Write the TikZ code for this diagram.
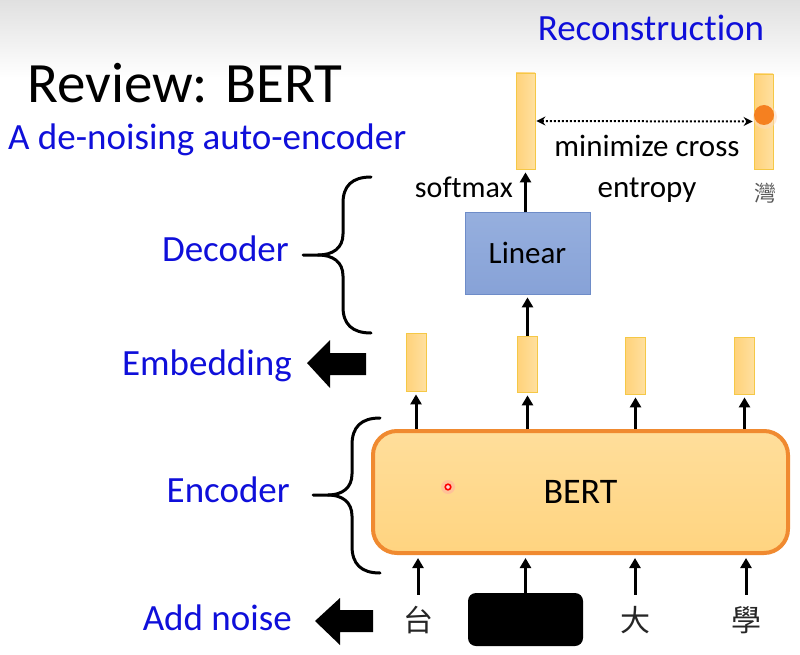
\documentclass[tikz,border=0pt]{standalone}
\usepackage{fontspec}
\setmainfont{Carlito}[Ligatures=NoCommon]
\newfontfamily\cjk{Noto Sans CJK TC}
\usetikzlibrary{arrows.meta}
\definecolor{lblue}{RGB}{15,15,218}
\definecolor{barL}{RGB}{255,210,122}
\definecolor{barR}{RGB}{255,224,160}
\definecolor{barB}{RGB}{245,200,70}
\definecolor{linT}{RGB}{150,175,222}
\definecolor{linB}{RGB}{135,162,215}
\definecolor{linD}{RGB}{110,140,200}
\definecolor{bertT}{RGB}{255,222,155}
\definecolor{bertB}{RGB}{255,212,128}
\definecolor{bertD}{RGB}{240,138,48}
\definecolor{dotor}{RGB}{245,128,32}
\begin{document}
\begin{tikzpicture}[x=1pt,y=-1pt,
  lbl/.style={inner sep=0pt, text=lblue, font=\fontsize{37}{42}\selectfont},
  bar/.style={draw=barB, line width=0.8pt, left color=barL, right color=barR, inner sep=0pt, minimum width=20pt},
  linbox/.style={draw=linD, line width=0.8pt, top color=linT, bottom color=linB, inner sep=0pt, font=\fontsize{31}{34}\selectfont},
  bertbox/.style={draw=bertD, line width=4pt, top color=bertT, bottom color=bertB, rounded corners=24pt, inner sep=0pt, font=\fontsize{36}{40}\selectfont},
  tok/.style={inner sep=0pt, minimum height=50pt, font=\cjk\fontsize{30}{32}\selectfont, text=black!85},
  arr/.style={line width=3pt, -{Triangle[width=11pt,length=10pt]}},
  dotarr/.style={line width=2pt, dash pattern=on 2pt off 2pt, {Stealth[width=9pt,length=9pt]}-{Stealth[width=9pt,length=9pt]}},
  bracestyle/.style={line width=3pt, line cap=round},
  plain/.style={inner sep=0pt, font=\fontsize{31}{34}\selectfont}]
\useasboundingbox (0,0) rectangle (800,655);
\fill[white] (0,0) rectangle (800,655);
\shade[top color=black!12, bottom color=white] (0,0) rectangle (800,78);

% titles
\node[lbl, anchor=base] (recon) at (651,41) {Reconstruction};
\node[inner sep=0pt, anchor=base west, font=\fontsize{57}{60}\selectfont] (title) at (27,103) {Review: BERT};
\node[lbl, anchor=base west] (sub) at (8,150) {A de-noising auto-encoder};

% left labels
\node[lbl, anchor=base east] (dec) at (289,261) {Decoder};
\node[lbl, anchor=base east] (emb) at (292,375) {Embedding};
\node[lbl, anchor=base east] (enc) at (290,502) {Encoder};
\node[lbl, anchor=base east] (noise) at (292,630) {Add noise};

% braces
\draw[bracestyle] (371,177) .. controls (352,177) and (343,186) .. (343,203) -- (343,234) .. controls (343,248) and (333,255) .. (318,255) -- (303,255);
\draw[bracestyle] (371,333) .. controls (352,333) and (343,324) .. (343,307) -- (343,276) .. controls (343,262) and (333,255) .. (318,255);
\draw[bracestyle] (380,418) .. controls (361,418) and (352,427) .. (352,445) -- (352,474) .. controls (352,488) and (342,495) .. (328,495) -- (313,495);
\draw[bracestyle] (380,573) .. controls (361,573) and (352,564) .. (352,546) -- (352,516) .. controls (352,502) and (342,495) .. (328,495);

% big arrows
\fill (307,363) -- (330,340) -- (330,353) -- (366,353) -- (366,375) -- (330,375) -- (330,388) -- cycle;
\fill (315,621) -- (340,598) -- (340,610) -- (373,610) -- (373,632) -- (340,632) -- (340,645) -- cycle;

% output bars
\node[bar, minimum width=19pt, minimum height=96pt] (o1) at (525.5,121) {};
\node[bar, minimum width=19pt, minimum height=95pt] (o2) at (763.5,121.5) {};
\fill[dotor!30, opacity=0.5] (765,117) circle (12);
\node[circle, fill=dotor, minimum size=20pt, inner sep=0pt] (dot) at (764,115) {};
\draw[dotarr, shorten <=1pt, shorten >=1pt] (o1.east) -- (o2.west);
\node[plain, anchor=base] (mc1) at (647,157) {minimize cross};
\node[plain, anchor=base] (mc2) at (647,197) {entropy};
\node[inner sep=0pt, anchor=center, font=\cjk\fontsize{22}{24}\selectfont, text=black!65] (tgt) at (765,193) {灣};

% decoder
\node[linbox, minimum width=125pt, minimum height=82pt] (lin) at (527.5,253) {Linear};
\node[plain, anchor=base east, font=\fontsize{30}{34}\selectfont] (sm) at (513,197) {softmax};
\draw[arr, shorten >=3pt] (lin.north -| o1.south) -- (o1.south);

% embedding bars
\node[bar, minimum height=58pt] (e1) at (416,362) {};
\node[bar, minimum height=56pt] (e2) at (527.5,364) {};
\node[bar, minimum height=57pt] (e3) at (635.5,365.5) {};
\node[bar, minimum height=57pt] (e4) at (744.5,365.5) {};
\draw[arr, shorten >=3pt] (e2.north) -- (e2.north |- lin.south);

% BERT
\node[bertbox, minimum width=415pt, minimum height=122pt] (bert) at (580.5,492) {BERT};
\fill[red!35, opacity=0.45] (448,487) circle (7);
\draw[red, fill=red!15, line width=1.6pt] (448,487) circle (2.8);

\foreach \e in {e1,e2,e3,e4}{
  \draw[arr, shorten >=3pt] (\e.south |- bert.north) -- (\e.south);
}

% tokens
\node[tok] (t1) at (418,620) {台};
\node[fill=black, rounded corners=8pt, minimum width=115pt, minimum height=53pt, inner sep=0pt] (t2) at (525.5,619.5) {};
\node[tok] (t3) at (635,620) {大};
\node[tok] (t4) at (746,620) {學};
\draw[arr, shorten >=3pt] (t1.north) -- (t1.north |- bert.south);
\draw[arr, shorten >=3pt] (t2.north) -- (t2.north |- bert.south);
\draw[arr, shorten >=3pt] (t3.north) -- (t3.north |- bert.south);
\draw[arr, shorten >=3pt] (t4.north) -- (t4.north |- bert.south);
\end{tikzpicture}
\end{document}
